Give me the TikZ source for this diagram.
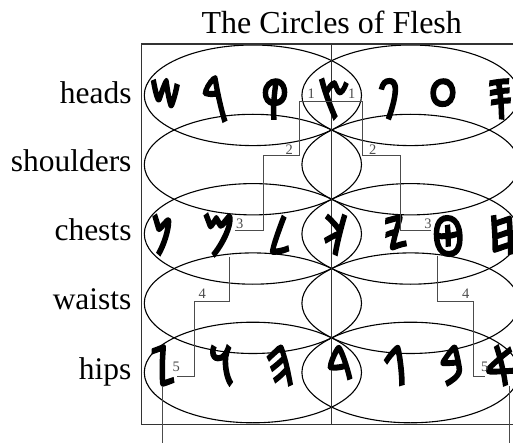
\documentclass[tikz,border=0pt]{standalone}
\usepackage{fontspec}
\setmainfont{Liberation Serif}
\IfFontExistsTF{Noto Sans Phoenician}
  {\newfontfamily\phx[FakeBold=3,FakeStretch=0.75]{Noto Sans Phoenician}}
  {\newfontfamily\phx{DejaVu Sans}}
\begin{document}
\begin{tikzpicture}[x=1pt,y=-1pt,
  ell/.style={draw=black,line width=1.1pt},
  frame/.style={draw=black!80,line width=1.1pt},
  conn/.style={draw=black!70,line width=0.9pt},
  lab/.style={font=\fontsize{31.5}{36}\selectfont,anchor=base east,inner sep=0pt},
  ttl/.style={font=\fontsize{32}{36}\selectfont,anchor=base,inner sep=0pt},
  num/.style={font=\fontsize{14.5}{16}\selectfont,text=black!70,inner sep=0pt},
  glyph/.style={font=\phx\fontsize{55}{60}\selectfont,inner sep=0pt}]
\clip (0,0) rectangle (513,443);
% ellipses
\foreach \yy in {95.3,164.6,233.9,303.2,372.5}{
  \draw[ell] (252.9,\yy) ellipse [x radius=108.6pt,y radius=50.3pt];
  \draw[ell] (410.5,\yy) ellipse [x radius=108.6pt,y radius=50.3pt];
}
% frame
\draw[frame] (141.7,44) rectangle (540,424.3);
\draw[frame] (331.7,44) -- (331.7,424.3);
% title and labels
\node[ttl] (title) at (331.7,33.3) {The Circles of Flesh};
\node[lab] (lheads) at (131.7,103.3) {heads};
\node[lab] (lshoulders) at (131.7,172) {shoulders};
\node[lab] (lchests) at (131.7,240.5) {chests};
\node[lab] (lwaists) at (131.7,309) {waists};
\node[lab] (lhips) at (131.7,379) {hips};
% letters: heads
\node[glyph] (shin)   at (166,99)   {\char"10914};
\node[glyph] (resh)   at (214,99)   {\char"10913};
\node[glyph] (qof)    at (275,99)   {\char"10912};
\node[glyph] (sade)   at (334,99)   {\char"10911};
\node[glyph] (pe)     at (389,99)   {\char"10910};
\node[glyph] (ayin)   at (443,99)   {\char"1090F};
\node[glyph] (samekh) at (500,99)   {\char"1090E};
% chests
\node[glyph] (nun)    at (162.5,235) {\char"1090D};
\node[glyph] (mem)    at (219,235)   {\char"1090C};
\node[glyph] (lamed)  at (280,235)   {\char"1090B};
\node[glyph] (kaf)    at (335,235)   {\char"1090A};
\node[glyph] (yod)    at (396,235)   {\char"10909};
\node[glyph] (tet)    at (448,236)   {\char"10908};
\node[glyph] (het)    at (502,235)   {\char"10907};
% hips
\node[glyph] (zayin)  at (163,365.5) {\char"10906};
\node[glyph] (waw)    at (223,365.5) {\char"10905};
\node[glyph] (he)     at (280,365.5) {\char"10904};
\node[glyph] (dalet)  at (340,365.5) {\char"10903};
\node[glyph] (gimel)  at (396,365.5) {\char"10902};
\node[glyph] (bet)    at (452.5,365.5) {\char"10901};
\node[glyph] (alef)   at (502,365.5) {\char"10900};
% connector corners
\coordinate (kA)  at (299.3,101.7);
\coordinate (kAr) at (362.7,101.7);
\coordinate (kB)  at (263.3,155.7);
\coordinate (kC)  at (263.3,230.7);
\coordinate (kE)  at (400.7,155.7);
\coordinate (kF)  at (400.7,230.2);
\coordinate (kG)  at (229,301.7);
\coordinate (kH)  at (194.3,376.7);
\coordinate (kJ)  at (162.3,443);
\coordinate (kK)  at (437.5,301.7);
\coordinate (kL)  at (473.3,376.7);
\coordinate (kM)  at (509,443);
% connectors
\draw[conn] (mem.east |- kC) -| (kB) -| (kA) -- (kAr) |- (kE) |- (tet.west |- kF);
\draw[conn] (kG |- mem.south) -- (kG) -| (kH) -- (zayin.east |- kH);
\draw[conn] (kJ |- zayin.south) -- (kJ);
\draw[conn] (kK |- tet.south) -- (kK) -| (kL) -- (alef.west |- kL);
\draw[conn] (kM |- alef.south) -- (kM);
% numbers
\node[num] (n1l) at (311.2,93.3) {1};
\node[num] (n1r) at (351.7,93.5) {1};
\node[num] (n2l) at (289.3,150) {2};
\node[num] (n2r) at (372.8,149.7) {2};
\node[num] (n3l) at (239.7,223.8) {3};
\node[num] (n3r) at (428,223.8) {3};
\node[num] (n4l) at (202.2,293.7) {4};
\node[num] (n4r) at (465.8,293.7) {4};
\node[num] (n5l) at (176.2,367.2) {5};
\node[num] (n5r) at (484.7,367.2) {5};
\end{tikzpicture}
\end{document}
